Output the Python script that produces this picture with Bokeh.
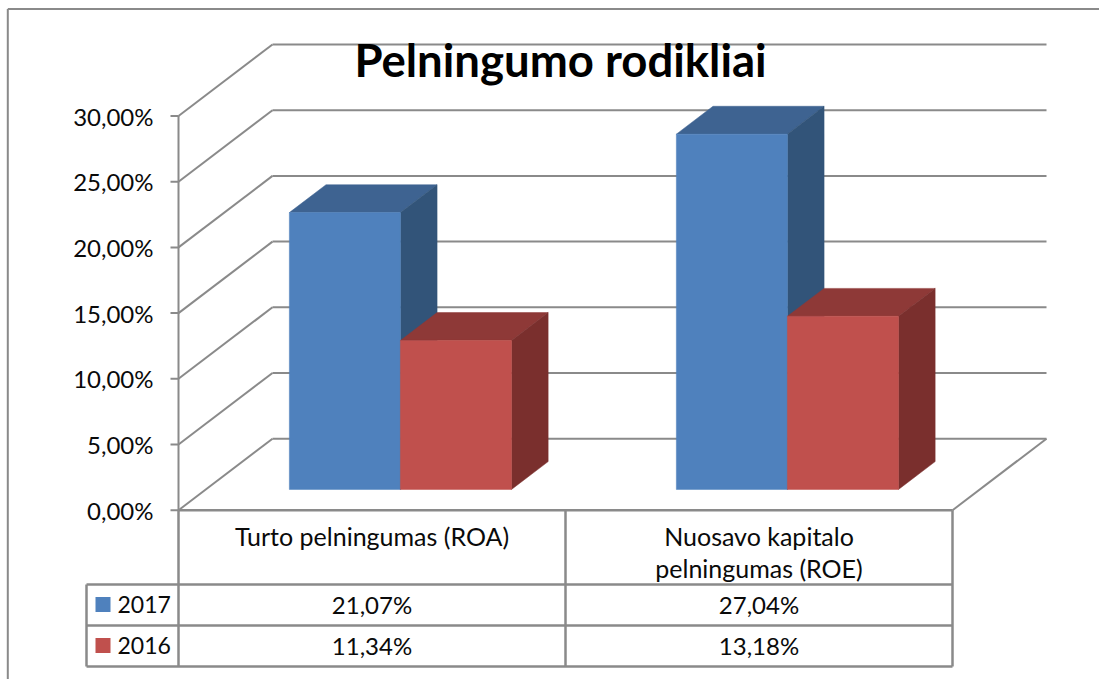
from bokeh.plotting import figure
from bokeh.embed import file_html
from bokeh.resources import INLINE
from bokeh.core.properties import value
from bokeh.models import Range1d

# ---------- data ----------
title = "Pelningumo rodikliai"
categories = [["Turto pelningumas (ROA)"], ["Nuosavo kapitalo", "pelningumas (ROE)"]]
series_names = ["2017", "2016"]
series_2017 = [21.07, 27.04]
series_2016 = [11.34, 13.18]
labels_2017 = ["21,07%", "27,04%"]
labels_2016 = ["11,34%", "13,18%"]
ticks = [0, 5, 10, 15, 20, 25, 30]
tick_labels = ["0,00%", "5,00%", "10,00%", "15,00%", "20,00%", "25,00%", "30,00%"]

# ---------- layout ----------
FONT = value("Lato")
W, H = 1099, 679
X0, CAT_PX = 178.0, 387.0   # pixel of category 0, pixels per category
Y0, VAL_PX = 509.7, 13.14   # pixel of value 0, pixels per percent
DEPTH_X, DEPTH_Y = 94.0, 71.5  # wall depth, in pixels
GRID = "#8A8A8A"
BAR_W = 0.287
BAR_C = 0.503
D1, D2 = 0.29, 0.68
COLORS = [("#4F81BD", "#3E6391", "#325479"), ("#C0504D", "#8E3937", "#7A2F2D")]


def vx(px):
    return (px - X0) / CAT_PX


def vy(py):
    return (Y0 - py) / VAL_PX


def proj(c, v, d):
    return c + d * DEPTH_X / CAT_PX, v + d * DEPTH_Y / VAL_PX


p = figure(width=W, height=H, output_backend="svg", toolbar_location=None,
           x_range=Range1d(vx(0), vx(W)), y_range=Range1d(vy(H), vy(0)),
           min_border=0, outline_line_color=None)
p.xaxis.visible = False
p.yaxis.visible = False
p.grid.visible = False
p.background_fill_color = "white"
p.border_fill_color = "white"

LW = 2


def line(xs, ys, width=LW, color=GRID):
    p.line(xs, ys, line_color=color, line_width=width)


# page frame
line([vx(7.3), vx(7.3)], [vy(8.5), vy(H)], 2)
line([vx(7.3), vx(W)], [vy(8.5), vy(8.5)], 2)

n = len(categories)
# walls
for t in ticks:
    bx, by = proj(0, t, 1)
    ex, ey = proj(n, t, 1)
    line([bx, ex], [by, ey])
    line([0, bx], [t, by])
    line([vx(170), 0], [t, t])
line([0, 0], [0, ticks[-1]])
# floor
fx, fy = proj(n, 0, 1)
line([n, fx], [0, fy])
line([0, n], [0, 0], 2.5)

# bars: each series drawn back to front, left to right
for i in range(n):
    for s, vals in enumerate([series_2017, series_2016]):
        front, top, side = COLORS[s]
        v = vals[i]
        c0 = i + BAR_C + (s - 1) * BAR_W
        c1 = c0 + BAR_W
        corners_top = [proj(c0, v, D1), proj(c1, v, D1), proj(c1, v, D2), proj(c0, v, D2)]
        corners_side = [proj(c1, 0, D1), proj(c1, 0, D2), proj(c1, v, D2), proj(c1, v, D1)]
        corners_front = [proj(c0, 0, D1), proj(c1, 0, D1), proj(c1, v, D1), proj(c0, v, D1)]
        for pts, col in ((corners_top, top), (corners_side, side), (corners_front, front)):
            p.patch([a for a, _ in pts], [b for _, b in pts], fill_color=col, line_color=col, line_width=0.5)

# tick labels
p.text([vx(153)] * len(ticks), ticks, text=tick_labels, text_align="right", text_baseline="middle",
       text_font=FONT, text_font_size="24px", text_color="#0A0A0A")

# title
p.text([vx(560)], [vy(58.5)], text=[title], text_align="center", text_baseline="middle",
       text_font=FONT, text_font_style="bold", text_font_size="45.5px", text_color="black")

# data table grid
rows = [vy(584), vy(625), vy(666)]
for r in rows:
    line([vx(86), n], [r, r], 2.5)
line([vx(86), vx(86)], [rows[0], rows[-1]], 2.5)
for c in range(n + 1):
    line([c, c], [0, rows[-1]], 2.5)

# category labels
for i, parts in enumerate(categories):
    if len(parts) == 1:
        ys = [vy(535.5)]
    else:
        ys = [vy(535.5), vy(567.5)]
    p.text([i + 0.5] * len(parts), ys, text=parts, text_align="center", text_baseline="middle",
           text_font=FONT, text_font_size="25px", text_color="#0A0A0A")

# table rows
for row, (name, labs, cols, yc) in enumerate(zip(series_names, [labels_2017, labels_2016], COLORS, [vy(604), vy(645)])):
    p.text([i + 0.5 for i in range(n)], [yc] * n, text=labs, text_align="center", text_baseline="middle",
           text_font=FONT, text_font_size="24px", text_color="#0A0A0A")
    p.text([vx(117)], [yc], text=[name], text_align="left", text_baseline="middle",
           text_font=FONT, text_font_size="23px", text_color="#0A0A0A")
    h = 7.5 / VAL_PX
    p.patch([vx(95), vx(110), vx(110), vx(95)], [yc - h, yc - h, yc + h, yc + h], fill_color=cols[0], line_color=None)

open("out.html", "w").write(file_html(p, INLINE))
